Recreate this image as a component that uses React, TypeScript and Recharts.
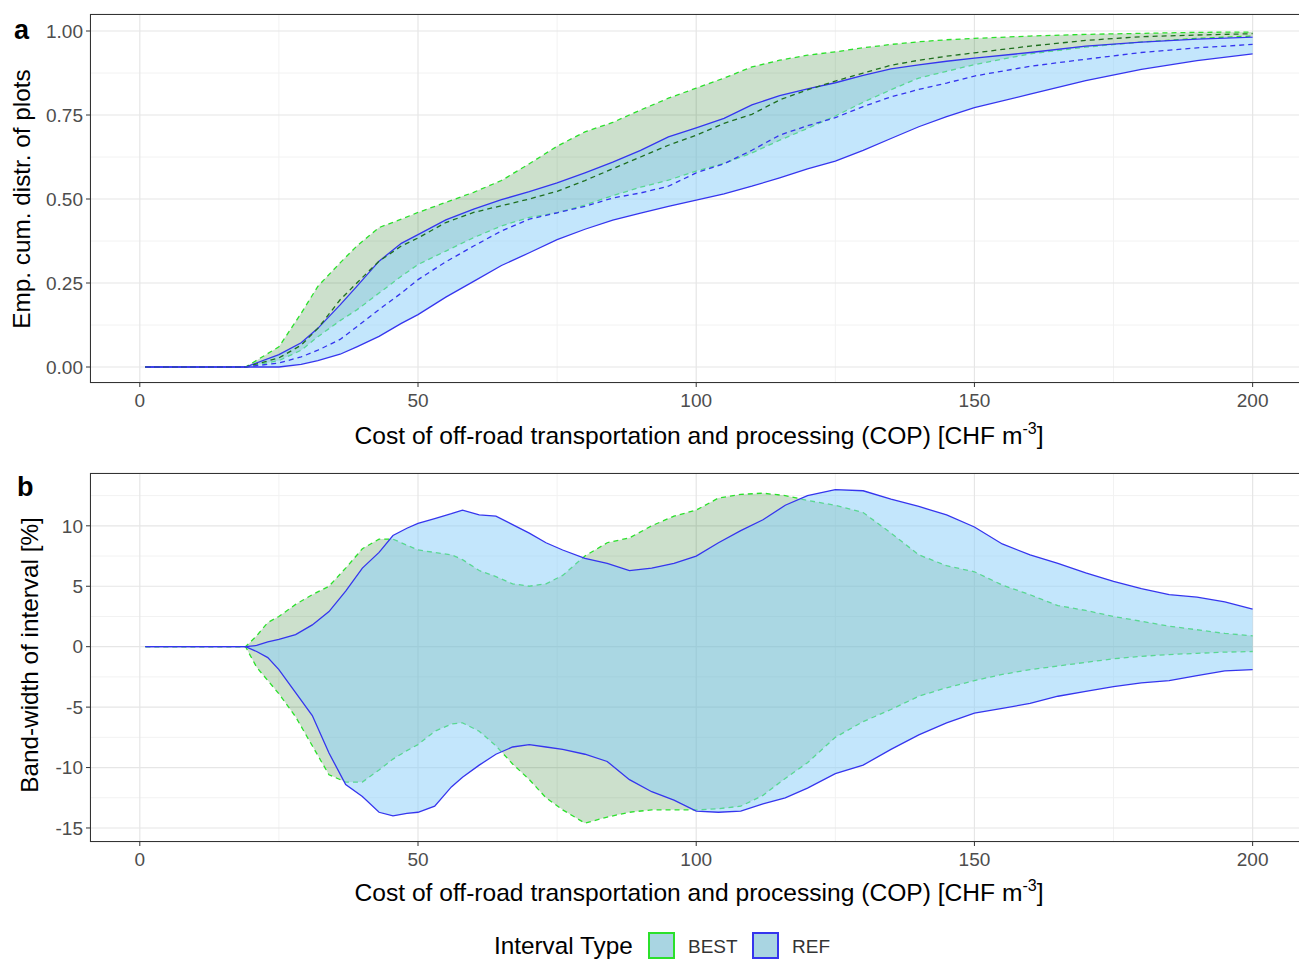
import { Area, CartesianGrid, ComposedChart, Line, XAxis, YAxis } from 'recharts'

const copA = [1, 19, 25, 29, 32, 36, 39, 43, 47, 50, 55, 60, 65, 70, 75, 80, 85, 90, 95, 100, 105, 110, 115, 120, 125, 130, 135, 140, 145, 150, 160, 170, 180, 190, 200]
const bestHiA = [0, 0, 0.06, 0.16, 0.24, 0.31, 0.36, 0.415, 0.44, 0.46, 0.49, 0.52, 0.555, 0.605, 0.657, 0.7, 0.728, 0.765, 0.8, 0.83, 0.86, 0.893, 0.913, 0.928, 0.938, 0.95, 0.96, 0.968, 0.974, 0.978, 0.985, 0.99, 0.993, 0.996, 0.997]
const bestMidA = [0, 0, 0.027, 0.065, 0.115, 0.2, 0.25, 0.315, 0.36, 0.384, 0.43, 0.46, 0.48, 0.5, 0.523, 0.555, 0.59, 0.625, 0.66, 0.69, 0.725, 0.752, 0.795, 0.825, 0.851, 0.875, 0.898, 0.913, 0.925, 0.935, 0.955, 0.972, 0.983, 0.988, 0.992]
const bestLoA = [0, 0, 0.019, 0.05, 0.09, 0.138, 0.17, 0.22, 0.27, 0.305, 0.345, 0.385, 0.42, 0.445, 0.459, 0.482, 0.51, 0.535, 0.556, 0.583, 0.606, 0.637, 0.675, 0.71, 0.747, 0.788, 0.825, 0.86, 0.88, 0.9, 0.932, 0.952, 0.967, 0.978, 0.985]
const refHiA = [0, 0, 0.037, 0.072, 0.115, 0.185, 0.24, 0.315, 0.368, 0.394, 0.438, 0.47, 0.498, 0.522, 0.548, 0.578, 0.61, 0.645, 0.685, 0.712, 0.74, 0.78, 0.808, 0.828, 0.846, 0.868, 0.887, 0.899, 0.91, 0.919, 0.936, 0.955, 0.967, 0.976, 0.982]
const refMidA = [0, 0, 0.012, 0.03, 0.05, 0.082, 0.12, 0.171, 0.22, 0.26, 0.313, 0.36, 0.405, 0.44, 0.459, 0.478, 0.503, 0.518, 0.538, 0.578, 0.605, 0.645, 0.69, 0.718, 0.742, 0.775, 0.804, 0.826, 0.845, 0.866, 0.895, 0.916, 0.936, 0.95, 0.96]
const refLoA = [0, 0, 0, 0.008, 0.019, 0.038, 0.06, 0.091, 0.13, 0.156, 0.208, 0.255, 0.302, 0.34, 0.379, 0.41, 0.437, 0.458, 0.478, 0.497, 0.515, 0.538, 0.563, 0.59, 0.613, 0.645, 0.68, 0.715, 0.745, 0.772, 0.812, 0.852, 0.886, 0.912, 0.932]

// panel b: band-width of interval [%]
const copB = [1, 19, 21, 23, 25, 28, 31, 34, 37, 40, 43, 45.5, 48, 50, 53, 56, 58, 61, 64, 67, 70, 73, 76, 80, 84, 88, 92, 96, 100, 104, 108, 112, 116, 120, 125, 130, 135, 140, 145, 150, 155, 160, 165, 170, 175, 180, 185, 190, 195, 200]
const bestHiB = [0, 0, 0.9, 2.0, 2.5, 3.5, 4.3, 5.0, 6.5, 8.1, 8.9, 8.9, 8.4, 8.0, 7.8, 7.6, 7.2, 6.3, 5.8, 5.2, 5.0, 5.2, 5.9, 7.5, 8.6, 9.0, 10.0, 10.8, 11.3, 12.3, 12.6, 12.7, 12.5, 12.1, 11.7, 11.1, 9.4, 7.6, 6.7, 6.2, 5.1, 4.3, 3.4, 3.0, 2.5, 2.1, 1.7, 1.4, 1.1, 0.9]
const bestLoB = [0, 0, -1.7, -2.8, -3.9, -5.8, -8.2, -10.6, -11.2, -11.2, -10.2, -9.3, -8.6, -8.1, -7.0, -6.4, -6.3, -7.0, -8.2, -9.7, -11.0, -12.5, -13.5, -14.6, -14.1, -13.7, -13.5, -13.5, -13.5, -13.4, -13.2, -12.3, -10.9, -9.6, -7.5, -6.2, -5.2, -4.1, -3.4, -2.8, -2.3, -1.9, -1.6, -1.3, -1.0, -0.8, -0.65, -0.55, -0.45, -0.4]
const refHiB = [0, 0, 0.1, 0.4, 0.6, 1.0, 1.8, 2.9, 4.6, 6.5, 7.8, 9.2, 9.8, 10.2, 10.6, 11.0, 11.3, 10.9, 10.8, 10.1, 9.4, 8.6, 8.0, 7.3, 6.9, 6.3, 6.5, 6.9, 7.5, 8.6, 9.6, 10.5, 11.7, 12.5, 13.0, 12.9, 12.2, 11.6, 10.9, 9.9, 8.5, 7.6, 6.9, 6.1, 5.4, 4.8, 4.3, 4.1, 3.7, 3.1]
const refLoB = [0, 0, -0.4, -0.9, -1.9, -3.8, -5.7, -8.8, -11.4, -12.4, -13.7, -14.0, -13.8, -13.7, -13.2, -11.6, -10.8, -9.8, -8.9, -8.3, -8.1, -8.3, -8.5, -8.9, -9.5, -11.0, -12.0, -12.7, -13.6, -13.7, -13.6, -13.0, -12.5, -11.7, -10.5, -9.8, -8.5, -7.3, -6.3, -5.5, -5.1, -4.7, -4.1, -3.7, -3.3, -3.0, -2.8, -2.4, -2.0, -1.9]

const xTicks = [0, 50, 100, 150, 200]
const xMinor = [25, 75, 125, 175]
const yTicksA = [0, 0.25, 0.5, 0.75, 1]
const yMinorA = [0.125, 0.375, 0.625, 0.875]
const yTicksB = [-15, -10, -5, 0, 5, 10]
const yMinorB = [-12.5, -7.5, -2.5, 2.5, 7.5, 12.5]

const dataA = copA.map((x, i) => ({
  x,
  best: [bestLoA[i], bestHiA[i]],
  ref: [refLoA[i], refHiA[i]],
  bestMid: bestMidA[i],
  refMid: refMidA[i],
}))

const dataB = copB.map((x, i) => ({
  x,
  best: [bestLoB[i], bestHiB[i]],
  ref: [refLoB[i], refHiB[i]],
}))

const FONT = '"Liberation Sans", Arial, sans-serif'
const GREEN = '#2be02b'
const DARKGREEN = '#1f6f1f'
const BLUE = '#3535ee'
const CHART_W = 1310
const PLOT_LEFT = 90
const PLOT_H = 369
const tickStyle = { fill: '#4d4d4d', fontSize: 19, fontFamily: FONT }

function Panel({
  data,
  top,
  yDomain,
  yTicks,
  yMinor,
  fmt,
  withMid,
}: {
  data: any[]
  top: number
  yDomain: [number, number]
  yTicks: number[]
  yMinor: number[]
  fmt: (v: number) => string
  withMid: boolean
}) {
  return (
    <div style={{ position: 'absolute', left: 0, top, width: CHART_W, height: PLOT_H + 14 + 40 }}>
      <ComposedChart
        width={CHART_W}
        height={PLOT_H + 14 + 40}
        data={data}
        margin={{ top: 14, right: 2, left: PLOT_LEFT - 60, bottom: 0 }}
      >
        <CartesianGrid
          stroke="#f2f2f2"
          strokeWidth={1}
          horizontalValues={yMinor}
          verticalValues={xMinor}
        />
        <CartesianGrid stroke="#e6e6e6" strokeWidth={1.2} />
        <XAxis
          dataKey="x"
          type="number"
          domain={[-8.95, 209.95]}
          ticks={xTicks}
          allowDataOverflow
          height={40}
          axisLine={false}
          tickSize={4}
          tickMargin={7}
          tickLine={{ stroke: '#333' }}
          tick={tickStyle}
        />
        <YAxis
          type="number"
          domain={yDomain}
          ticks={yTicks}
          allowDataOverflow
          width={60}
          axisLine={false}
          tickSize={4}
          tickMargin={3}
          tickLine={{ stroke: '#333' }}
          tick={tickStyle}
          tickFormatter={fmt}
        />
        <Area
          type="linear"
          dataKey="best"
          fill="#006400"
          fillOpacity={0.2}
          stroke={GREEN}
          strokeWidth={1.3}
          strokeDasharray="5 4"
          dot={false}
          activeDot={false}
          isAnimationActive={false}
        />
        {withMid && (
          <Line
            type="linear"
            dataKey="bestMid"
            stroke={DARKGREEN}
            strokeWidth={1.3}
            strokeDasharray="5 4"
            dot={false}
            activeDot={false}
            isAnimationActive={false}
          />
        )}
        <Area
          type="linear"
          dataKey="ref"
          fill="#87cefa"
          fillOpacity={0.5}
          stroke={BLUE}
          strokeWidth={1.3}
          dot={false}
          activeDot={false}
          isAnimationActive={false}
        />
        {withMid && (
          <Line
            type="linear"
            dataKey="refMid"
            stroke={BLUE}
            strokeWidth={1.3}
            strokeDasharray="5 4"
            dot={false}
            activeDot={false}
            isAnimationActive={false}
          />
        )}
      </ComposedChart>
      {/* panel border */}
      <div
        style={{
          position: 'absolute',
          left: PLOT_LEFT,
          top: 14,
          width: CHART_W - PLOT_LEFT - 2,
          height: PLOT_H,
          border: '1px solid #333',
          boxSizing: 'border-box',
          pointerEvents: 'none',
        }}
      />
    </div>
  )
}

function XTitle({ top }: { top: number }) {
  return (
    <div
      style={{
        position: 'absolute',
        left: 0,
        width: 1398,
        top,
        textAlign: 'center',
        fontSize: 24.6,
        color: '#000',
        whiteSpace: 'nowrap',
      }}
    >
      Cost of off-road transportation and processing (COP) [CHF m
      <span style={{ fontSize: 16, verticalAlign: 10 }}>-3</span>]
    </div>
  )
}

function YTitle({ text, x, y }: { text: string; x: number; y: number }) {
  return (
    <div
      style={{
        position: 'absolute',
        left: x,
        top: y,
        transform: 'translate(-50%, -50%) rotate(-90deg)',
        fontSize: 24.3,
        color: '#000',
        whiteSpace: 'nowrap',
      }}
    >
      {text}
    </div>
  )
}

export default function App() {
  return (
    <div
      style={{
        position: 'absolute',
        left: 0,
        top: 0,
        width: 1299,
        height: 959,
        overflow: 'hidden',
        background: '#fff',
        fontFamily: FONT,
      }}
    >
      <Panel
        data={dataA}
        top={0}
        yDomain={[-0.0476, 1.0506]}
        yTicks={yTicksA}
        yMinor={yMinorA}
        fmt={(v) => v.toFixed(2)}
        withMid
      />
      <Panel
        data={dataB}
        top={459}
        yDomain={[-16.16, 14.37]}
        yTicks={yTicksB}
        yMinor={yMinorB}
        fmt={(v) => String(v)}
        withMid={false}
      />
      <div style={{ position: 'absolute', left: 14, top: 15, fontSize: 27, fontWeight: 'bold' }}>a</div>
      <div style={{ position: 'absolute', left: 17, top: 472, fontSize: 27, fontWeight: 'bold' }}>b</div>
      <YTitle text="Emp. cum. distr. of plots" x={22} y={199} />
      <YTitle text="Band-width of interval [%]" x={30} y={655} />
      <XTitle top={420} />
      <XTitle top={877} />
      {/* legend */}
      <div style={{ position: 'absolute', left: 494, top: 932, fontSize: 24.3, whiteSpace: 'nowrap' }}>
        Interval Type
      </div>
      <div
        style={{
          position: 'absolute',
          left: 648,
          top: 932,
          width: 27,
          height: 27,
          boxSizing: 'border-box',
          border: `2px solid ${GREEN}`,
          background: '#a9d5e2',
        }}
      />
      <div style={{ position: 'absolute', left: 688, top: 936, fontSize: 19, color: '#333' }}>BEST</div>
      <div
        style={{
          position: 'absolute',
          left: 752,
          top: 932,
          width: 27,
          height: 27,
          boxSizing: 'border-box',
          border: `2px solid ${BLUE}`,
          background: '#a9d5e2',
        }}
      />
      <div style={{ position: 'absolute', left: 792, top: 936, fontSize: 19, color: '#333' }}>REF</div>
    </div>
  )
}
